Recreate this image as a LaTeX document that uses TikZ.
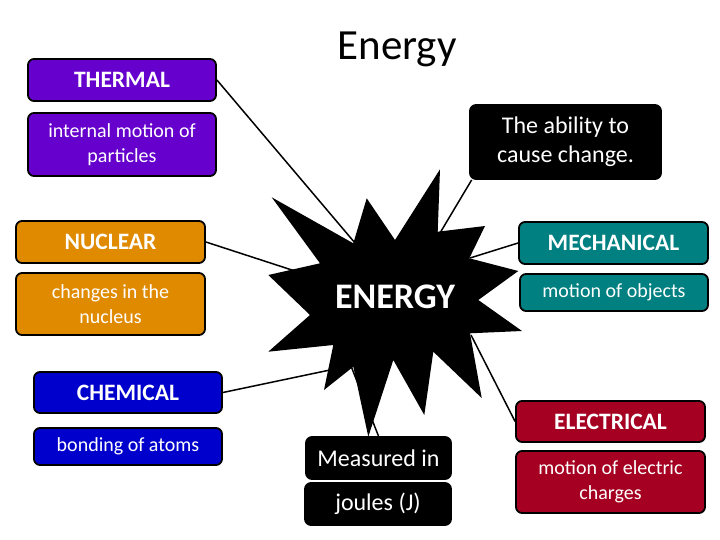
\documentclass[tikz,border=0pt]{standalone}
\usepackage{fontspec}
\setmainfont{Carlito}
\definecolor{thermalc}{RGB}{102,0,204}
\definecolor{nuclearc}{RGB}{224,138,0}
\definecolor{chemc}{RGB}{0,0,204}
\definecolor{mechc}{RGB}{0,128,128}
\definecolor{elecc}{RGB}{165,0,33}
\begin{document}
\begin{tikzpicture}[x=1pt,y=-1pt,
  box/.style={draw=black, line width=1.8pt, rounded corners=6pt, text=white, align=center, inner sep=0pt},
  headbox/.style={box, font=\bfseries\fontsize{23.5}{26}\selectfont},
  descbox/.style={box, font=\fontsize{20}{24.5}\selectfont},
  blackbox/.style={box, fill=black, font=\fontsize{24}{29}\selectfont},
  conn/.style={line width=1.5pt, black}]
\useasboundingbox (0,0) rectangle (720,540);

% boxes
\node[headbox, fill=thermalc, minimum width=188pt, minimum height=42pt] (thermal) at (122,80) {THERMAL};
\node[descbox, fill=thermalc, minimum width=188pt, minimum height=63pt] (thermaldesc) at (122,144.5) {internal motion of\\particles};
\node[headbox, fill=nuclearc, minimum width=189pt, minimum height=42pt] (nuclear) at (110.5,242) {NUCLEAR};
\node[descbox, fill=nuclearc, minimum width=189pt, minimum height=62pt] (nucleardesc) at (110.5,304) {changes in the\\nucleus};
\node[headbox, fill=chemc, minimum width=188pt, minimum height=41pt] (chemical) at (128,392.5) {CHEMICAL};
\node[descbox, fill=chemc, minimum width=188pt, minimum height=37pt] (chemdesc) at (128,446.5) {bonding of atoms};
\node[blackbox, minimum width=145pt, minimum height=42pt] (measured) at (378.5,458) {Measured in};
\node[blackbox, minimum width=146pt, minimum height=42pt] (joules) at (378,504) {joules (J)};
\node[blackbox, minimum width=191pt, minimum height=74pt] (ability) at (565.5,142) {The ability to\\cause change.};
\node[headbox, fill=mechc, minimum width=189pt, minimum height=42pt] (mech) at (613.5,243) {MECHANICAL};
\node[descbox, fill=mechc, minimum width=188pt, minimum height=37pt] (mechdesc) at (614,292.5) {motion of objects};
\node[headbox, fill=elecc, minimum width=189pt, minimum height=41pt] (elec) at (610.5,421.5) {ELECTRICAL};
\node[descbox, fill=elecc, minimum width=189pt, minimum height=62pt] (elecdesc) at (610.5,482) {motion of electric\\charges};

% title
\node[font=\fontsize{43}{50}\selectfont] (title) at (397,49) {Energy};

% star attachment points
\coordinate (sThermal) at (355,243);
\coordinate (sNuclear) at (295,271);
\coordinate (sChem) at (330,370);
\coordinate (sAbility) at (440,233);
\coordinate (sMech) at (470,258);
\coordinate (sElec) at (471,335);
\coordinate (sMeasured) at (351,366);

% connectors
\draw[conn] (thermal.east) -- (sThermal);
\draw[conn] (nuclear.east) -- (sNuclear);
\draw[conn] (chemical.east) -- (sChem);
\draw[conn] (ability.202) -- (sAbility);
\draw[conn] (mech.west) -- (sMech);
\draw[conn] (elec.west) -- (sElec);
\draw[conn] (measured.north) -- (sMeasured);

% starburst
\fill[black] (366.7,198.3) -- (395,240) -- (440,169.3) -- (437.7,231.7) -- (485,226)
  -- (469.3,258.3) -- (518.3,271) -- (478.3,300) -- (522,331) -- (470,333.3)
  -- (481.7,398) -- (433.3,351.7) -- (424.3,415) -- (393.3,360) -- (368.3,436.7)
  -- (353.3,366.7) -- (324,390) -- (333.3,345) -- (268.3,351.7) -- (310,315)
  -- (268.3,275) -- (320,263.3) -- (271.7,197.3) -- (353.3,243.3) -- cycle;

\node[text=white, font=\bfseries\fontsize{36}{42}\selectfont] (energy) at (395,297) {ENERGY};
\end{tikzpicture}
\end{document}
